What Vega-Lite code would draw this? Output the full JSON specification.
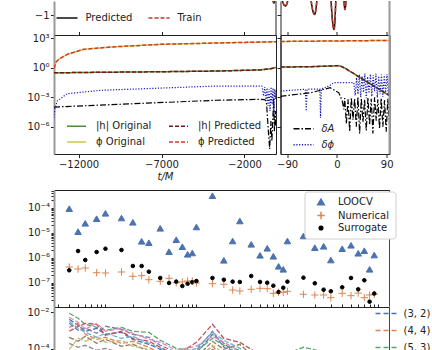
{
"$schema": "https://vega.github.io/schema/vega-lite/v6.json",
"padding": {"left": 26, "top": 0, "right": 0, "bottom": 0},
"config": {
 "font": "DejaVu Sans",
 "view": {"stroke": "#222"},
 "axis": {"labelFontSize": 10, "labelColor": "#222", "tickColor": "#222", "domainColor": "#222", "grid": false, "tickSize": 3.5, "labelPadding": 1.5, "titleFontSize": 10, "titleFontWeight": "normal", "titleColor": "#222", "labelFlush": false, "labelOverlap": false},
 "legend": {"labelFontSize": 10, "labelColor": "#222", "title": null}
},
"columns": 2,
"align": {"row": "each", "column": "each"},
"bounds": "flush",
"spacing": {"row": 0, "column": 4.5},
"resolve": {
 "scale": {"x": "independent", "y": "independent", "color": "independent", "strokeDash": "independent", "shape": "independent", "fill": "independent", "stroke": "independent", "size": "independent"},
 "axis": {"x": "independent", "y": "independent"},
 "legend": {"color": "independent", "strokeDash": "independent", "shape": "independent", "fill": "independent", "stroke": "independent", "size": "independent"}
},
"datasets": {
 "w1L": [
  {"s":"Predicted","t":-13480,"v":0},{"s":"Predicted","t":-420,"v":-0.5},{"s":"Predicted","t":-230,"v":-0.76},{"s":"Predicted","t":-130,"v":-0.5},{"s":"Predicted","t":-100,"v":-0.2},
  {"s":"Train","t":-13480,"v":0},{"s":"Train","t":-420,"v":-0.5},{"s":"Train","t":-230,"v":-0.76},{"s":"Train","t":-130,"v":-0.5},{"s":"Train","t":-100,"v":-0.2}
 ],
 "w1R": [
  {"s":"Predicted","t":-120,"v":0.8},{"s":"Predicted","t":-93,"v":-0.82},{"s":"Predicted","t":-66,"v":0.9},{"s":"Predicted","t":-40.5,"v":-0.99},{"s":"Predicted","t":-22,"v":1.1},{"s":"Predicted","t":-5.3,"v":-1.29},{"s":"Predicted","t":5,"v":1.2},{"s":"Predicted","t":14.5,"v":-0.89},{"s":"Predicted","t":23,"v":0.6},{"s":"Predicted","t":31,"v":-0.45},{"s":"Predicted","t":40,"v":0.3},{"s":"Predicted","t":50,"v":-0.15},{"s":"Predicted","t":60,"v":0.08},{"s":"Predicted","t":75,"v":0.02},{"s":"Predicted","t":95,"v":0},
  {"s":"Train","t":-120,"v":0.8},{"s":"Train","t":-93,"v":-0.82},{"s":"Train","t":-66,"v":0.9},{"s":"Train","t":-40.5,"v":-0.99},{"s":"Train","t":-22,"v":1.1},{"s":"Train","t":-5.3,"v":-1.29},{"s":"Train","t":5,"v":1.2},{"s":"Train","t":14.5,"v":-0.89},{"s":"Train","t":23,"v":0.6},{"s":"Train","t":31,"v":-0.45},{"s":"Train","t":40,"v":0.3},{"s":"Train","t":50,"v":-0.15},{"s":"Train","t":60,"v":0.08},{"s":"Train","t":75,"v":0.02},{"s":"Train","t":95,"v":0}
 ],
 "w2L": [
  {"s":"|h| Original","t":-13480,"v":0.3},{"s":"|h| Original","t":-11685,"v":0.33},{"s":"|h| Original","t":-10076,"v":0.35},{"s":"|h| Original","t":-7064,"v":0.39},{"s":"|h| Original","t":-3691,"v":0.46},{"s":"|h| Original","t":-1083,"v":0.6},{"s":"|h| Original","t":-438,"v":0.78},{"s":"|h| Original","t":-100,"v":1.05},
  {"s":"ϕ Original","t":-13470,"v":0.9},{"s":"ϕ Original","t":-13350,"v":4},{"s":"ϕ Original","t":-13191,"v":7.2},{"s":"ϕ Original","t":-12685,"v":23},{"s":"ϕ Original","t":-11685,"v":74},{"s":"ϕ Original","t":-10076,"v":128},{"s":"ϕ Original","t":-7064,"v":240},{"s":"ϕ Original","t":-3691,"v":326},{"s":"ϕ Original","t":-100,"v":442},
  {"s":"|h| Predicted","t":-13480,"v":0.3},{"s":"|h| Predicted","t":-11685,"v":0.33},{"s":"|h| Predicted","t":-10076,"v":0.35},{"s":"|h| Predicted","t":-7064,"v":0.39},{"s":"|h| Predicted","t":-3691,"v":0.46},{"s":"|h| Predicted","t":-1083,"v":0.6},{"s":"|h| Predicted","t":-438,"v":0.78},{"s":"|h| Predicted","t":-100,"v":1.05},
  {"s":"ϕ Predicted","t":-13470,"v":0.9},{"s":"ϕ Predicted","t":-13350,"v":4},{"s":"ϕ Predicted","t":-13191,"v":7.2},{"s":"ϕ Predicted","t":-12685,"v":23},{"s":"ϕ Predicted","t":-11685,"v":74},{"s":"ϕ Predicted","t":-10076,"v":128},{"s":"ϕ Predicted","t":-7064,"v":240},{"s":"ϕ Predicted","t":-3691,"v":326},{"s":"ϕ Predicted","t":-100,"v":442},
  {"s":"δA","t":-13480,"v":1e-4},{"s":"δA","t":-3691,"v":4.9e-4},{"s":"δA","t":-1083,"v":6.1e-4},{"s":"δA","t":-800,"v":5.8e-4},{"s":"δA","t":-680,"v":4.1e-4},{"s":"δA","t":-560,"v":3.5e-7},{"s":"δA","t":-480,"v":5.4e-9},{"s":"δA","t":-408,"v":3.7e-6},{"s":"δA","t":-348,"v":3.5e-8},{"s":"δA","t":-239,"v":8.3e-4},{"s":"δA","t":-197,"v":3.5e-7},{"s":"δA","t":-137,"v":3.9e-5},{"s":"δA","t":-100,"v":1.2e-6},
  {"s":"δϕ","t":-13480,"v":8e-6},{"s":"δϕ","t":-13432,"v":5.9e-5},{"s":"δϕ","t":-13287,"v":4.1e-4},{"s":"δϕ","t":-12685,"v":2.26e-3},{"s":"δϕ","t":-10679,"v":5e-3},{"s":"δϕ","t":-3691,"v":1.37e-2},{"s":"δϕ","t":-1083,"v":1.37e-2},{"s":"δϕ","t":-950,"v":1.37e-2},{"s":"δϕ","t":-850,"v":1.3e-3},{"s":"δϕ","t":-780,"v":1.1e-2},{"s":"δϕ","t":-700,"v":4.1e-4},{"s":"δϕ","t":-640,"v":8.6e-3},{"s":"δϕ","t":-580,"v":1.3e-4},{"s":"δϕ","t":-520,"v":6.8e-3},{"s":"δϕ","t":-460,"v":3.9e-5},{"s":"δϕ","t":-400,"v":1.1e-2},{"s":"δϕ","t":-340,"v":2e-4},{"s":"δϕ","t":-280,"v":8.6e-3},{"s":"δϕ","t":-230,"v":1.9e-5},{"s":"δϕ","t":-180,"v":6.8e-3},{"s":"δϕ","t":-140,"v":6.5e-4},{"s":"δϕ","t":-100,"v":6.8e-3}
 ],
 "w2R": [
  {"s":"|h| Original","t":-102,"v":1.18},{"s":"|h| Original","t":-50,"v":1.26},{"s":"|h| Original","t":-10,"v":1.5},{"s":"|h| Original","t":0,"v":1.6},{"s":"|h| Original","t":6,"v":1.5},{"s":"|h| Original","t":10,"v":1.2},{"s":"|h| Original","t":14,"v":0.93},{"s":"|h| Original","t":30,"v":0.26},{"s":"|h| Original","t":50,"v":0.052},{"s":"|h| Original","t":70,"v":0.0107},{"s":"|h| Original","t":95,"v":0.00145},
  {"s":"ϕ Original","t":-102,"v":470},{"s":"ϕ Original","t":0,"v":530},{"s":"ϕ Original","t":95,"v":600},
  {"s":"|h| Predicted","t":-102,"v":1.18},{"s":"|h| Predicted","t":-50,"v":1.26},{"s":"|h| Predicted","t":-10,"v":1.5},{"s":"|h| Predicted","t":0,"v":1.6},{"s":"|h| Predicted","t":6,"v":1.5},{"s":"|h| Predicted","t":10,"v":1.2},{"s":"|h| Predicted","t":14,"v":0.93},{"s":"|h| Predicted","t":30,"v":0.26},{"s":"|h| Predicted","t":50,"v":0.052},{"s":"|h| Predicted","t":70,"v":0.0107},{"s":"|h| Predicted","t":95,"v":0.00145},
  {"s":"ϕ Predicted","t":-102,"v":470},{"s":"ϕ Predicted","t":0,"v":530},{"s":"ϕ Predicted","t":95,"v":600},
  {"s":"δA","t":-102,"v":1.2e-3},{"s":"δA","t":-99,"v":1.3e-3},{"s":"δA","t":-48,"v":2.8e-3},{"s":"δA","t":-12,"v":9.2e-3},{"s":"δA","t":3.4,"v":2.8e-3},{"s":"δA","t":9.6,"v":4.1e-4},{"s":"δA","t":12.5,"v":5.9e-5},
  {"s":"δA","t":14,"v":8e-4},{"s":"δA","t":17,"v":2e-6},{"s":"δA","t":20,"v":6e-4},{"s":"δA","t":23,"v":3e-7},{"s":"δA","t":26,"v":9e-4},{"s":"δA","t":29,"v":5e-6},{"s":"δA","t":32,"v":7e-4},{"s":"δA","t":35,"v":1e-6},{"s":"δA","t":38,"v":1e-3},{"s":"δA","t":41,"v":2e-7},{"s":"δA","t":44,"v":8e-4},{"s":"δA","t":47,"v":3e-6},{"s":"δA","t":50,"v":6e-4},{"s":"δA","t":53,"v":4e-7},{"s":"δA","t":56,"v":9e-4},{"s":"δA","t":59,"v":1.5e-6},{"s":"δA","t":62,"v":7e-4},{"s":"δA","t":65,"v":2e-7},{"s":"δA","t":68,"v":1e-3},{"s":"δA","t":71,"v":4e-6},{"s":"δA","t":74,"v":6e-4},{"s":"δA","t":77,"v":6e-7},{"s":"δA","t":80,"v":8e-4},{"s":"δA","t":83,"v":1e-6},{"s":"δA","t":86,"v":5e-4},{"s":"δA","t":89,"v":3e-7},{"s":"δA","t":92,"v":7e-4},{"s":"δA","t":95,"v":2e-6},
  {"s":"δϕ","t":-102,"v":4e-3},{"s":"δϕ","t":-99,"v":4.3e-3},{"s":"δϕ","t":-60,"v":6.3e-3},{"s":"δϕ","t":-57,"v":6.5e-3},{"s":"δϕ","t":-55.5,"v":3.9e-5},{"s":"δϕ","t":-54,"v":6.6e-3},{"s":"δϕ","t":-32.7,"v":6.8e-3},{"s":"δϕ","t":-31,"v":6.8e-3},{"s":"δϕ","t":-29.7,"v":8e-6},{"s":"δϕ","t":-28.3,"v":7e-3},{"s":"δϕ","t":-14.7,"v":1.37e-2},{"s":"δϕ","t":-5.6,"v":3e-2},{"s":"δϕ","t":30.5,"v":3e-2},
  {"s":"δϕ","t":33,"v":1.5e-3},{"s":"δϕ","t":35.5,"v":0.1},{"s":"δϕ","t":38,"v":2e-3},{"s":"δϕ","t":40.5,"v":0.2},{"s":"δϕ","t":43,"v":1e-3},{"s":"δϕ","t":45.5,"v":0.15},{"s":"δϕ","t":48,"v":3e-3},{"s":"δϕ","t":50.5,"v":0.25},{"s":"δϕ","t":53,"v":8e-4},{"s":"δϕ","t":55.5,"v":0.12},{"s":"δϕ","t":58,"v":2.5e-3},{"s":"δϕ","t":60.5,"v":0.22},{"s":"δϕ","t":63,"v":1.2e-3},{"s":"δϕ","t":65.5,"v":0.18},{"s":"δϕ","t":68,"v":4e-3},{"s":"δϕ","t":70.5,"v":0.25},{"s":"δϕ","t":73,"v":9e-4},{"s":"δϕ","t":75.5,"v":0.14},{"s":"δϕ","t":78,"v":2e-3},{"s":"δϕ","t":80.5,"v":0.2},{"s":"δϕ","t":83,"v":1.1e-3},{"s":"δϕ","t":85.5,"v":0.16},{"s":"δϕ","t":88,"v":3e-3},{"s":"δϕ","t":90.5,"v":0.22},{"s":"δϕ","t":93,"v":1.5e-3},{"s":"δϕ","t":95,"v":0.1}
 ],
 "sc": [
  {"x":0.4,"m":"LOOCV","v":9.4e-5},{"x":0.4,"m":"Numerical","v":4.28e-7},{"x":0.4,"m":"Surrogate","v":3.15e-7},
  {"x":0.5,"m":"LOOCV","v":1.12e-5},{"x":0.5,"m":"Numerical","v":3.55e-7},{"x":0.5,"m":"Surrogate","v":1.87e-6},
  {"x":0.6,"m":"LOOCV","v":2.43e-5},{"x":0.6,"m":"Numerical","v":3.89e-7},{"x":0.6,"m":"Surrogate","v":8.16e-7},
  {"x":0.8,"m":"LOOCV","v":3.72e-5},{"x":0.8,"m":"Numerical","v":2.52e-7},{"x":0.8,"m":"Surrogate","v":1.71e-6},
  {"x":1,"m":"LOOCV","v":6.12e-5},{"x":1,"m":"Numerical","v":2.45e-7},{"x":1,"m":"Surrogate","v":2.32e-6},
  {"x":1.5,"m":"LOOCV","v":3.96e-5},{"x":1.5,"m":"Numerical","v":2.69e-7},{"x":1.5,"m":"Surrogate","v":2.06e-6},
  {"x":2,"m":"LOOCV","v":2.67e-5},{"x":2,"m":"Numerical","v":1.81e-7},{"x":2,"m":"Surrogate","v":4.69e-7},
  {"x":2.5,"m":"LOOCV","v":4.6e-6},{"x":2.5,"m":"Numerical","v":1.91e-7},{"x":2.5,"m":"Surrogate","v":4.69e-7},
  {"x":3,"m":"LOOCV","v":4.04e-6},{"x":3,"m":"Numerical","v":1.32e-7},{"x":3,"m":"Surrogate","v":2.77e-7},
  {"x":4,"m":"LOOCV","v":1.53e-5},{"x":4,"m":"Numerical","v":1.14e-7},{"x":4,"m":"Surrogate","v":1.55e-7},
  {"x":5,"m":"LOOCV","v":1.76e-6},{"x":5,"m":"Numerical","v":1.5e-7},{"x":5,"m":"Surrogate","v":9.73e-8},
  {"x":6,"m":"LOOCV","v":5.33e-6},{"x":6,"m":"Numerical","v":1e-7},{"x":6,"m":"Surrogate","v":1.1e-7},
  {"x":7,"m":"LOOCV","v":2.79e-6},{"x":7,"m":"Numerical","v":1.07e-7},{"x":7,"m":"Surrogate","v":7.37e-8},
  {"x":8,"m":"LOOCV","v":1.38e-6},{"x":8,"m":"Numerical","v":1.17e-7},{"x":8,"m":"Surrogate","v":9.12e-8},
  {"x":9,"m":"LOOCV","v":1.56e-6},{"x":9,"m":"Numerical","v":1.17e-7},{"x":9,"m":"Surrogate","v":1.04e-7},
  {"x":10,"m":"LOOCV","v":1.73e-5},{"x":10,"m":"Numerical","v":9.73e-8},{"x":10,"m":"Surrogate","v":1.17e-7},
  {"x":15,"m":"LOOCV","v":3.12e-4},{"x":15,"m":"Numerical","v":9.12e-8},{"x":15,"m":"Surrogate","v":1.55e-7},
  {"x":20,"m":"LOOCV","v":7.94e-7},{"x":20,"m":"Numerical","v":8.63e-8},{"x":20,"m":"Surrogate","v":1.32e-7},
  {"x":25,"m":"LOOCV","v":4.73e-6},{"x":25,"m":"Numerical","v":5.09e-8},{"x":25,"m":"Surrogate","v":1.1e-7},
  {"x":30,"m":"LOOCV","v":3.01e-5},{"x":30,"m":"Numerical","v":4.65e-8},{"x":30,"m":"Surrogate","v":1.07e-7},
  {"x":40,"m":"LOOCV","v":3.48e-6},{"x":40,"m":"Numerical","v":5.43e-8},{"x":40,"m":"Surrogate","v":1.86e-7},
  {"x":50,"m":"LOOCV","v":1.26e-6},{"x":50,"m":"Numerical","v":5.96e-8},{"x":50,"m":"Surrogate","v":1.07e-7},
  {"x":60,"m":"LOOCV","v":2.41e-6},{"x":60,"m":"Numerical","v":5.74e-8},{"x":60,"m":"Surrogate","v":1e-7},
  {"x":70,"m":"LOOCV","v":1.15e-6},{"x":70,"m":"Numerical","v":3.75e-8},{"x":70,"m":"Surrogate","v":7.58e-8},
  {"x":80,"m":"LOOCV","v":4.56e-7},{"x":80,"m":"Numerical","v":4.11e-8},{"x":80,"m":"Surrogate","v":4.23e-8},
  {"x":90,"m":"LOOCV","v":3.45e-7},{"x":90,"m":"Numerical","v":4.11e-8},{"x":90,"m":"Surrogate","v":6.3e-8},
  {"x":100,"m":"LOOCV","v":4.73e-6},{"x":100,"m":"Numerical","v":4.52e-8},{"x":100,"m":"Surrogate","v":1.1e-7},
  {"x":150,"m":"LOOCV","v":7.51e-6},{"x":150,"m":"Numerical","v":3.42e-8},{"x":150,"m":"Surrogate","v":1.59e-7},
  {"x":200,"m":"LOOCV","v":2.55e-6},{"x":200,"m":"Numerical","v":3.21e-8},{"x":200,"m":"Surrogate","v":9.46e-8},
  {"x":250,"m":"LOOCV","v":2.9e-6},{"x":250,"m":"Numerical","v":3.21e-8},{"x":250,"m":"Surrogate","v":5.24e-8},
  {"x":300,"m":"LOOCV","v":8.16e-7},{"x":300,"m":"Numerical","v":2.5e-8},{"x":300,"m":"Surrogate","v":4.52e-8},
  {"x":400,"m":"LOOCV","v":2.32e-6},{"x":400,"m":"Numerical","v":3.75e-8},{"x":400,"m":"Surrogate","v":6.53e-8},
  {"x":500,"m":"LOOCV","v":3.18e-6},{"x":500,"m":"Numerical","v":3.01e-8},{"x":500,"m":"Surrogate","v":1.55e-7},
  {"x":600,"m":"LOOCV","v":1.52e-6},{"x":600,"m":"Numerical","v":3.82e-8},{"x":600,"m":"Surrogate","v":5.43e-8},
  {"x":700,"m":"LOOCV","v":1.93e-6},{"x":700,"m":"Numerical","v":2.5e-8},{"x":700,"m":"Surrogate","v":1.25e-7},
  {"x":800,"m":"LOOCV","v":3.45e-7},{"x":800,"m":"Numerical","v":3.21e-8},{"x":800,"m":"Surrogate","v":1.73e-8},
  {"x":900,"m":"LOOCV","v":1.29e-6},{"x":900,"m":"Numerical","v":3.42e-8},{"x":900,"m":"Surrogate","v":3.68e-8}
 ],
 "md": [
  {"s":"(3, 2)","x":0.4,"v":4.01e-3},{"s":"(3, 2)","x":0.5,"v":1.89e-3},{"s":"(3, 2)","x":0.6,"v":8.93e-4},{"s":"(3, 2)","x":0.8,"v":1.3e-3},{"s":"(3, 2)","x":1,"v":6.14e-4},{"s":"(3, 2)","x":1.5,"v":7.88e-4},{"s":"(3, 2)","x":2,"v":3.28e-4},{"s":"(3, 2)","x":3,"v":1.76e-4},{"s":"(3, 2)","x":4,"v":9.39e-5},{"s":"(3, 2)","x":6,"v":3.45e-5},{"s":"(3, 2)","x":10,"v":5.69e-5},{"s":"(3, 2)","x":15,"v":6.14e-4},{"s":"(3, 2)","x":20,"v":1.99e-4},{"s":"(3, 2)","x":30,"v":3.91e-5},{"s":"(3, 2)","x":60,"v":1.12e-5},{"s":"(3, 2)","x":150,"v":5.99e-6},{"s":"(3, 2)","x":900,"v":3.2e-6},
  {"s":"(4, 4)","x":0.4,"v":1.47e-3},{"s":"(4, 4)","x":0.5,"v":2.43e-3},{"s":"(4, 4)","x":0.6,"v":6.14e-4},{"s":"(4, 4)","x":0.8,"v":3.28e-4},{"s":"(4, 4)","x":1,"v":4.22e-4},{"s":"(4, 4)","x":1.5,"v":1.99e-4},{"s":"(4, 4)","x":2,"v":2.56e-4},{"s":"(4, 4)","x":3,"v":1.21e-4},{"s":"(4, 4)","x":4,"v":5.69e-5},{"s":"(4, 4)","x":6,"v":2.09e-5},{"s":"(4, 4)","x":10,"v":2.69e-5},{"s":"(4, 4)","x":15,"v":1.37e-4},{"s":"(4, 4)","x":20,"v":3.45e-5},{"s":"(4, 4)","x":30,"v":1.63e-5},{"s":"(4, 4)","x":60,"v":4.66e-6},{"s":"(4, 4)","x":150,"v":2.2e-6},{"s":"(4, 4)","x":900,"v":9.17e-7},
  {"s":"(5, 3)","x":0.4,"v":8.5e-3},{"s":"(5, 3)","x":0.5,"v":4.55e-3},{"s":"(5, 3)","x":0.6,"v":2.15e-3},{"s":"(5, 3)","x":0.8,"v":1.47e-3},{"s":"(5, 3)","x":1,"v":1.01e-3},{"s":"(5, 3)","x":1.5,"v":1.47e-3},{"s":"(5, 3)","x":2,"v":8.93e-4},{"s":"(5, 3)","x":3,"v":7.88e-4},{"s":"(5, 3)","x":4,"v":2.9e-4},{"s":"(5, 3)","x":6,"v":1.06e-4},{"s":"(5, 3)","x":10,"v":7.31e-5},{"s":"(5, 3)","x":15,"v":3.72e-4},{"s":"(5, 3)","x":20,"v":1.55e-4},{"s":"(5, 3)","x":30,"v":8.29e-5},{"s":"(5, 3)","x":60,"v":2.09e-5},{"s":"(5, 3)","x":150,"v":1.21e-4},{"s":"(5, 3)","x":900,"v":1.63e-5},
  {"s":"(2, 2)","x":0.4,"v":8.93e-4},{"s":"(2, 2)","x":0.5,"v":1.67e-3},{"s":"(2, 2)","x":0.6,"v":2.43e-3},{"s":"(2, 2)","x":0.8,"v":2.15e-3},{"s":"(2, 2)","x":1,"v":5.42e-4},{"s":"(2, 2)","x":1.5,"v":8.93e-4},{"s":"(2, 2)","x":2,"v":3.72e-4},{"s":"(2, 2)","x":3,"v":2.56e-4},{"s":"(2, 2)","x":4,"v":1.21e-4},{"s":"(2, 2)","x":6,"v":4.43e-5},{"s":"(2, 2)","x":10,"v":2.26e-4},{"s":"(2, 2)","x":15,"v":2.15e-3},{"s":"(2, 2)","x":20,"v":3.72e-4},{"s":"(2, 2)","x":30,"v":2.26e-4},{"s":"(2, 2)","x":60,"v":2.69e-5},{"s":"(2, 2)","x":150,"v":9.88e-6},{"s":"(2, 2)","x":900,"v":4.66e-6},
  {"s":"(2, 1)","x":0.4,"v":2.43e-3},{"s":"(2, 1)","x":0.5,"v":1.01e-3},{"s":"(2, 1)","x":0.6,"v":1.3e-3},{"s":"(2, 1)","x":0.8,"v":6.96e-4},{"s":"(2, 1)","x":1,"v":1.67e-3},{"s":"(2, 1)","x":1.5,"v":1.15e-3},{"s":"(2, 1)","x":2,"v":6.14e-4},{"s":"(2, 1)","x":3,"v":4.22e-4},{"s":"(2, 1)","x":4,"v":1.55e-4},{"s":"(2, 1)","x":6,"v":6.45e-5},{"s":"(2, 1)","x":10,"v":8.29e-5},{"s":"(2, 1)","x":15,"v":8.93e-4},{"s":"(2, 1)","x":20,"v":1.21e-4},{"s":"(2, 1)","x":30,"v":5.69e-5},{"s":"(2, 1)","x":60,"v":1.44e-5},{"s":"(2, 1)","x":150,"v":7.69e-6},{"s":"(2, 1)","x":900,"v":2.82e-6},
  {"s":"(3, 3)","x":0.4,"v":4.22e-4},{"s":"(3, 3)","x":0.5,"v":2.56e-4},{"s":"(3, 3)","x":0.6,"v":4.78e-4},{"s":"(3, 3)","x":0.8,"v":1.99e-4},{"s":"(3, 3)","x":1,"v":3.28e-4},{"s":"(3, 3)","x":1.5,"v":1.37e-4},{"s":"(3, 3)","x":2,"v":1.76e-4},{"s":"(3, 3)","x":3,"v":7.31e-5},{"s":"(3, 3)","x":4,"v":3.91e-5},{"s":"(3, 3)","x":6,"v":1.63e-5},{"s":"(3, 3)","x":10,"v":3.45e-5},{"s":"(3, 3)","x":15,"v":2.56e-4},{"s":"(3, 3)","x":20,"v":9.39e-5},{"s":"(3, 3)","x":30,"v":1.76e-4},{"s":"(3, 3)","x":60,"v":7.69e-6},{"s":"(3, 3)","x":150,"v":3.63e-6},{"s":"(3, 3)","x":900,"v":1.71e-6},
  {"s":"(4, 3)","x":0.4,"v":5.15e-3},{"s":"(4, 3)","x":0.5,"v":2.75e-3},{"s":"(4, 3)","x":0.6,"v":1.15e-3},{"s":"(4, 3)","x":0.8,"v":2.43e-3},{"s":"(4, 3)","x":1,"v":8.93e-4},{"s":"(4, 3)","x":1.5,"v":1.3e-3},{"s":"(4, 3)","x":2,"v":6.96e-4},{"s":"(4, 3)","x":3,"v":3.28e-4},{"s":"(4, 3)","x":4,"v":2.26e-4},{"s":"(4, 3)","x":6,"v":8.29e-5},{"s":"(4, 3)","x":10,"v":1.37e-4},{"s":"(4, 3)","x":15,"v":4.78e-4},{"s":"(4, 3)","x":20,"v":2.26e-4},{"s":"(4, 3)","x":30,"v":7.31e-5},{"s":"(4, 3)","x":60,"v":1.85e-5},{"s":"(4, 3)","x":150,"v":6.79e-6},{"s":"(4, 3)","x":900,"v":3.63e-6},
  {"s":"(5, 5)","x":0.4,"v":1.99e-4},{"s":"(5, 5)","x":0.5,"v":1.21e-4},{"s":"(5, 5)","x":0.6,"v":1.55e-4},{"s":"(5, 5)","x":0.8,"v":8.29e-5},{"s":"(5, 5)","x":1,"v":1.06e-4},{"s":"(5, 5)","x":1.5,"v":5.69e-5},{"s":"(5, 5)","x":2,"v":7.31e-5},{"s":"(5, 5)","x":3,"v":3.91e-5},{"s":"(5, 5)","x":4,"v":2.69e-5},{"s":"(5, 5)","x":6,"v":9.88e-6},{"s":"(5, 5)","x":10,"v":1.63e-5},{"s":"(5, 5)","x":15,"v":9.39e-5},{"s":"(5, 5)","x":20,"v":3.91e-5},{"s":"(5, 5)","x":30,"v":2.09e-5},{"s":"(5, 5)","x":60,"v":4.66e-6},{"s":"(5, 5)","x":150,"v":1.71e-6},{"s":"(5, 5)","x":900,"v":6.3e-7},
  {"s":"(4, 2)","x":0.4,"v":9.39e-5},{"s":"(4, 2)","x":0.5,"v":3.72e-4},{"s":"(4, 2)","x":0.6,"v":2.56e-4},{"s":"(4, 2)","x":0.8,"v":4.78e-4},{"s":"(4, 2)","x":1,"v":2.26e-4},{"s":"(4, 2)","x":1.5,"v":2.9e-4},{"s":"(4, 2)","x":2,"v":1.37e-4},{"s":"(4, 2)","x":3,"v":9.39e-5},{"s":"(4, 2)","x":4,"v":5.02e-5},{"s":"(4, 2)","x":6,"v":2.69e-5},{"s":"(4, 2)","x":10,"v":2.09e-5},{"s":"(4, 2)","x":15,"v":1.55e-4},{"s":"(4, 2)","x":20,"v":5.69e-5},{"s":"(4, 2)","x":30,"v":3.05e-5},{"s":"(4, 2)","x":60,"v":9.88e-6},{"s":"(4, 2)","x":150,"v":4.66e-6},{"s":"(4, 2)","x":900,"v":1.33e-6},
  {"s":"(6, 6)","x":0.4,"v":3.13e-3},{"s":"(6, 6)","x":0.5,"v":1.3e-3},{"s":"(6, 6)","x":0.6,"v":7.88e-4},{"s":"(6, 6)","x":0.8,"v":4.22e-4},{"s":"(6, 6)","x":1,"v":6.96e-4},{"s":"(6, 6)","x":1.5,"v":3.72e-4},{"s":"(6, 6)","x":2,"v":4.78e-4},{"s":"(6, 6)","x":3,"v":1.99e-4},{"s":"(6, 6)","x":4,"v":1.06e-4},{"s":"(6, 6)","x":6,"v":5.02e-5},{"s":"(6, 6)","x":10,"v":1.06e-4},{"s":"(6, 6)","x":15,"v":7.88e-4},{"s":"(6, 6)","x":20,"v":2.9e-4},{"s":"(6, 6)","x":30,"v":1.06e-4},{"s":"(6, 6)","x":60,"v":1.27e-5},{"s":"(6, 6)","x":150,"v":5.28e-6},{"s":"(6, 6)","x":900,"v":2.2e-6}
 ]
},
"concat": [
 {
  "width": 222, "height": 34,
  "view": {"stroke": null},
  "layer": [
   {
    "data": {"name": "w1L"},
    "mark": {"type": "line", "clip": true, "interpolate": "monotone", "strokeWidth": 1.5},
    "encoding": {
     "x": {"field": "t", "type": "quantitative", "scale": {"domain": [-13480, -100], "nice": false, "zero": false}, "axis": {"values": [-12000, -7000, -2000], "labels": false, "tickSize": -3.5, "title": null}},
     "y": {"field": "v", "type": "quantitative", "scale": {"domain": [-1.4, -0.72], "nice": false, "zero": false}, "axis": {"values": [-1], "format": "d", "title": null, "domainColor": "#999", "domainWidth": 2}},
     "color": {"field": "s", "type": "nominal", "scale": {"domain": ["Predicted", "Train"], "range": ["#111111", "#c0392b"]}, "legend": {"orient": "none", "legendX": 1.5, "legendY": 5.3, "direction": "horizontal", "symbolType": "stroke", "symbolSize": 441, "symbolStrokeWidth": 1.5, "labelOffset": 7, "columnPadding": 13, "padding": 0}},
     "strokeDash": {"field": "s", "type": "nominal", "scale": {"domain": ["Predicted", "Train"], "range": [[1, 0], [4, 2]]}, "legend": {"orient": "none", "legendX": 1.5, "legendY": 5.3, "direction": "horizontal", "symbolType": "stroke", "symbolSize": 441, "symbolStrokeWidth": 1.5, "labelOffset": 7, "columnPadding": 13, "padding": 0}}
    }
   },
   {
    "data": {"values": [{}]},
    "mark": {"type": "rule", "color": "#222", "strokeWidth": 1},
    "encoding": {"x": {"datum": -100, "type": "quantitative", "scale": {"domain": [-13480, -100], "nice": false, "zero": false}}}
   }
  ]
 },
 {
  "width": 109, "height": 34,
  "view": {"stroke": null},
  "layer": [
   {
    "data": {"name": "w1R"},
    "mark": {"type": "line", "clip": true, "interpolate": "monotone", "strokeWidth": 1.5},
    "encoding": {
     "x": {"field": "t", "type": "quantitative", "scale": {"domain": [-102, 95], "nice": false, "zero": false}, "axis": {"values": [-90, 0, 90], "labels": false, "tickSize": -3.5, "title": null}},
     "y": {"field": "v", "type": "quantitative", "scale": {"domain": [-1.4, -0.72], "nice": false, "zero": false}, "axis": {"values": [-1], "labels": false, "title": null}},
     "color": {"field": "s", "type": "nominal", "scale": {"domain": ["Predicted", "Train"], "range": ["#111111", "#c0392b"]}, "legend": null},
     "strokeDash": {"field": "s", "type": "nominal", "scale": {"domain": ["Predicted", "Train"], "range": [[1, 0], [4, 2]]}, "legend": null}
    }
   },
   {
    "data": {"values": [{}]},
    "mark": {"type": "rule", "color": "#999", "strokeWidth": 2},
    "encoding": {"x": {"datum": 95, "type": "quantitative", "scale": {"domain": [-102, 95], "nice": false, "zero": false}}}
   }
  ]
 },
 {
  "width": 222, "height": 119,
  "data": {"name": "w2L"},
  "encoding": {
   "x": {"field": "t", "type": "quantitative", "scale": {"domain": [-13480, -100], "nice": false, "zero": false}, "axis": {"values": [-12000, -7000, -2000], "format": "d", "title": "t/M", "titleFontStyle": "italic", "titlePadding": 2}},
   "y": {"field": "v", "type": "quantitative", "scale": {"type": "log", "domain": [1.66e-9, 2138], "nice": false}, "axis": {"values": [1000, 1, 0.001, 0.000001], "labelExpr": "datum.value > 100 ? '10³' : datum.value > 0.1 ? '10⁰' : datum.value > 0.0001 ? '10⁻³' : '10⁻⁶'", "title": null, "domainColor": "#999", "domainWidth": 2}},
   "color": {"field": "s", "type": "nominal", "scale": {"domain": ["|h| Original", "|h| Predicted", "ϕ Original", "ϕ Predicted", "δA", "δϕ"], "range": ["#4f8a35", "#7a1515", "#d2c64a", "#d43a2a", "#000000", "#1c1cb4"]}, "legend": {"values": ["|h| Original", "|h| Predicted", "ϕ Original", "ϕ Predicted"], "orient": "none", "legendX": 12, "legendY": 80.5, "columns": 2, "direction": "horizontal", "symbolType": "stroke", "symbolSize": 361, "symbolStrokeWidth": 1.5, "labelOffset": 9, "columnPadding": 14, "rowPadding": -3.6, "padding": 0}},
   "strokeDash": {"field": "s", "type": "nominal", "scale": {"domain": ["|h| Original", "|h| Predicted", "ϕ Original", "ϕ Predicted", "δA", "δϕ"], "range": [[1, 0], [4, 2], [1, 0], [4, 2], [6, 2, 1.5, 2], [1.2, 1.6]]}, "legend": {"values": ["|h| Original", "|h| Predicted", "ϕ Original", "ϕ Predicted"], "orient": "none", "legendX": 12, "legendY": 80.5, "columns": 2, "direction": "horizontal", "symbolType": "stroke", "symbolSize": 361, "symbolStrokeWidth": 1.5, "labelOffset": 9, "columnPadding": 14, "rowPadding": -3.6, "padding": 0}}
  },
  "layer": [
   {"transform": [{"filter": "datum.s == '|h| Original' || datum.s == 'ϕ Original'"}], "mark": {"type": "line", "strokeWidth": 1.5, "clip": true}},
   {"transform": [{"filter": "datum.s == '|h| Predicted' || datum.s == 'ϕ Predicted'"}], "mark": {"type": "line", "strokeWidth": 1.5, "clip": true}},
   {"transform": [{"filter": "datum.s == 'δA' || datum.s == 'δϕ'"}], "mark": {"type": "line", "strokeWidth": 1.2, "clip": true}}
  ]
 },
 {
  "width": 109, "height": 119,
  "layer": [
   {
    "data": {"name": "w2R"},
    "encoding": {
     "x": {"field": "t", "type": "quantitative", "scale": {"domain": [-102, 95], "nice": false, "zero": false}, "axis": {"values": [-90, 0, 90], "format": "d", "title": null}},
     "y": {"field": "v", "type": "quantitative", "scale": {"type": "log", "domain": [1.66e-9, 2138], "nice": false}, "axis": {"values": [1000, 1, 0.001, 0.000001], "labels": false, "title": null}},
     "color": {"field": "s", "type": "nominal", "scale": {"domain": ["|h| Original", "|h| Predicted", "ϕ Original", "ϕ Predicted", "δA", "δϕ"], "range": ["#4f8a35", "#7a1515", "#d2c64a", "#d43a2a", "#000000", "#1c1cb4"]}, "legend": {"values": ["δA", "δϕ"], "orient": "none", "legendX": 12, "legendY": 82.8, "direction": "vertical", "symbolType": "stroke", "symbolSize": 400, "symbolStrokeWidth": 1.5, "labelOffset": 7, "rowPadding": -5.3, "padding": 0, "labelFontStyle": "italic"}},
     "strokeDash": {"field": "s", "type": "nominal", "scale": {"domain": ["|h| Original", "|h| Predicted", "ϕ Original", "ϕ Predicted", "δA", "δϕ"], "range": [[1, 0], [4, 2], [1, 0], [4, 2], [6, 2, 1.5, 2], [1.2, 1.6]]}, "legend": {"values": ["δA", "δϕ"], "orient": "none", "legendX": 12, "legendY": 82.8, "direction": "vertical", "symbolType": "stroke", "symbolSize": 400, "symbolStrokeWidth": 1.5, "labelOffset": 7, "rowPadding": -5.3, "padding": 0, "labelFontStyle": "italic"}}
    },
    "layer": [
     {"transform": [{"filter": "datum.s == '|h| Original' || datum.s == 'ϕ Original'"}], "mark": {"type": "line", "strokeWidth": 1.5, "clip": true}},
     {"transform": [{"filter": "datum.s == '|h| Predicted' || datum.s == 'ϕ Predicted'"}], "mark": {"type": "line", "strokeWidth": 1.5, "clip": true}},
     {"transform": [{"filter": "datum.s == 'δA' || datum.s == 'δϕ'"}], "mark": {"type": "line", "strokeWidth": 1.2, "clip": true}}
    ]
   },
   {
    "data": {"values": [{}]},
    "mark": {"type": "rule", "color": "#999", "strokeWidth": 2},
    "encoding": {"x": {"datum": 95, "type": "quantitative", "scale": {"domain": [-102, 95], "nice": false, "zero": false}}}
   }
  ]
 },
 {"width": 1, "height": 36, "view": {"stroke": null}, "data": {"values": [{}]}, "mark": {"type": "point", "opacity": 0}},
 {"width": 1, "height": 1, "view": {"stroke": null}, "data": {"values": [{}]}, "mark": {"type": "point", "opacity": 0}},
 {
  "width": 222, "height": 116.7,
  "view": {"stroke": null},
  "layer": [
   {
    "data": {"name": "sc"},
    "mark": {"type": "point", "filled": false, "strokeWidth": 1, "opacity": 1},
    "encoding": {
     "x": {"field": "x", "type": "quantitative", "scale": {"type": "log", "domain": [0.272, 1324], "range": [0, 335.5], "nice": false}, "axis": {"orient": "top", "labels": false, "ticks": false, "title": null}},
     "y": {"field": "v", "type": "quantitative", "scale": {"type": "log", "domain": [1.087e-8, 5.28e-4], "nice": false}, "axis": {"title": null, "domainColor": "#999", "domainWidth": 2, "tickSize": 3, "values": [2e-8,3e-8,4e-8,5e-8,6e-8,7e-8,8e-8,9e-8,1e-7,2e-7,3e-7,4e-7,5e-7,6e-7,7e-7,8e-7,9e-7,1e-6,2e-6,3e-6,4e-6,5e-6,6e-6,7e-6,8e-6,9e-6,1e-5,2e-5,3e-5,4e-5,5e-5,6e-5,7e-5,8e-5,9e-5,1e-4,2e-4,3e-4,4e-4,5e-4], "labelExpr": "abs(datum.value/1e-4-1) < 1e-6 ? '10⁻⁴' : abs(datum.value/1e-5-1) < 1e-6 ? '10⁻⁵' : abs(datum.value/1e-6-1) < 1e-6 ? '10⁻⁶' : abs(datum.value/1e-7-1) < 1e-6 ? '10⁻⁷' : ''"}},
     "shape": {"field": "m", "type": "nominal", "scale": {"domain": ["LOOCV", "Numerical", "Surrogate"], "range": ["triangle-up", "M-1.4,0H1.4M0,-1.4V1.4", "circle"]}, "legend": {"orient": "none", "legendX": 250.5, "legendY": 1.5, "fillColor": "white", "strokeColor": "#d0d0d0", "cornerRadius": 3, "padding": 5.5, "symbolOffset": 6, "labelOffset": 12, "rowPadding": 0.5}},
     "stroke": {"field": "m", "type": "nominal", "scale": {"domain": ["LOOCV", "Numerical", "Surrogate"], "range": ["#4c72b0", "#dd8452", "#000000"]}, "legend": {"orient": "none", "legendX": 250.5, "legendY": 1.5, "fillColor": "white", "strokeColor": "#d0d0d0", "cornerRadius": 3, "padding": 5.5, "symbolOffset": 6, "labelOffset": 12, "rowPadding": 0.5}},
     "fill": {"field": "m", "type": "nominal", "scale": {"domain": ["LOOCV", "Numerical", "Surrogate"], "range": ["#4c72b0", "transparent", "#000000"]}, "legend": {"orient": "none", "legendX": 250.5, "legendY": 1.5, "fillColor": "white", "strokeColor": "#d0d0d0", "cornerRadius": 3, "padding": 5.5, "symbolOffset": 6, "labelOffset": 12, "rowPadding": 0.5}},
     "size": {"field": "m", "type": "nominal", "scale": {"type": "point", "domain": ["LOOCV", "Numerical", "Surrogate"], "range": [42, 13], "padding": 0}, "legend": {"orient": "none", "legendX": 250.5, "legendY": 1.5, "fillColor": "white", "strokeColor": "#d0d0d0", "cornerRadius": 3, "padding": 5.5, "symbolOffset": 6, "labelOffset": 12, "rowPadding": 0.5}}
    }
   },
   {
    "data": {"values": [{}]},
    "mark": {"type": "rule", "color": "#444", "strokeWidth": 1},
    "encoding": {"x": {"datum": 1324, "type": "quantitative", "scale": {"type": "log", "domain": [0.272, 1324], "range": [0, 335.5], "nice": false}}}
   }
  ]
 },
 {"width": 1, "height": 1, "view": {"stroke": null}, "data": {"values": [{}]}, "mark": {"type": "point", "opacity": 0}},
 {
  "width": 222, "height": 100,
  "view": {"stroke": null},
  "layer": [
   {
    "data": {"name": "md"},
    "mark": {"type": "line", "strokeWidth": 1.3, "strokeDash": [5, 2]},
    "encoding": {
     "x": {"field": "x", "type": "quantitative", "scale": {"type": "log", "domain": [0.272, 1324], "range": [0, 335.5], "nice": false}, "axis": {"orient": "top", "labels": false, "title": null, "tickSize": 3, "values": [0.3,0.4,0.5,0.6,0.7,0.8,0.9,1,2,3,4,5,6,7,8,9,10,20,30,40,50,60,70,80,90,100,200,300,400,500,600,700,800,900,1000]}},
     "y": {"field": "v", "type": "quantitative", "scale": {"type": "log", "domain": [6.87e-8, 0.0187], "nice": false}, "axis": {"title": null, "domainColor": "#999", "domainWidth": 2, "values": [0.01, 0.0001, 0.000001], "labelExpr": "datum.value > 0.005 ? '10⁻²' : datum.value > 0.00005 ? '10⁻⁴' : '10⁻⁶'"}},
     "color": {"field": "s", "type": "nominal", "scale": {"domain": ["(3, 2)", "(4, 4)", "(5, 3)", "(2, 2)", "(2, 1)", "(3, 3)", "(4, 3)", "(5, 5)", "(4, 2)", "(6, 6)"], "range": ["#4c72b0", "#dd8452", "#55a868", "#c44e52", "#8172b3", "#937860", "#da8bc3", "#8c8c8c", "#ccb974", "#64b5cd"]}, "legend": {"orient": "none", "legendX": 320.5, "legendY": -5, "symbolType": "stroke", "symbolSize": 441, "symbolStrokeWidth": 1.3, "symbolDash": [5, 3], "labelOffset": 6, "rowPadding": -6.3, "padding": 0}}
    }
   },
   {
    "data": {"values": [{}]},
    "mark": {"type": "rule", "color": "#444", "strokeWidth": 1},
    "encoding": {"x": {"datum": 1324, "type": "quantitative", "scale": {"type": "log", "domain": [0.272, 1324], "range": [0, 335.5], "nice": false}}}
   }
  ]
 }
]
}
